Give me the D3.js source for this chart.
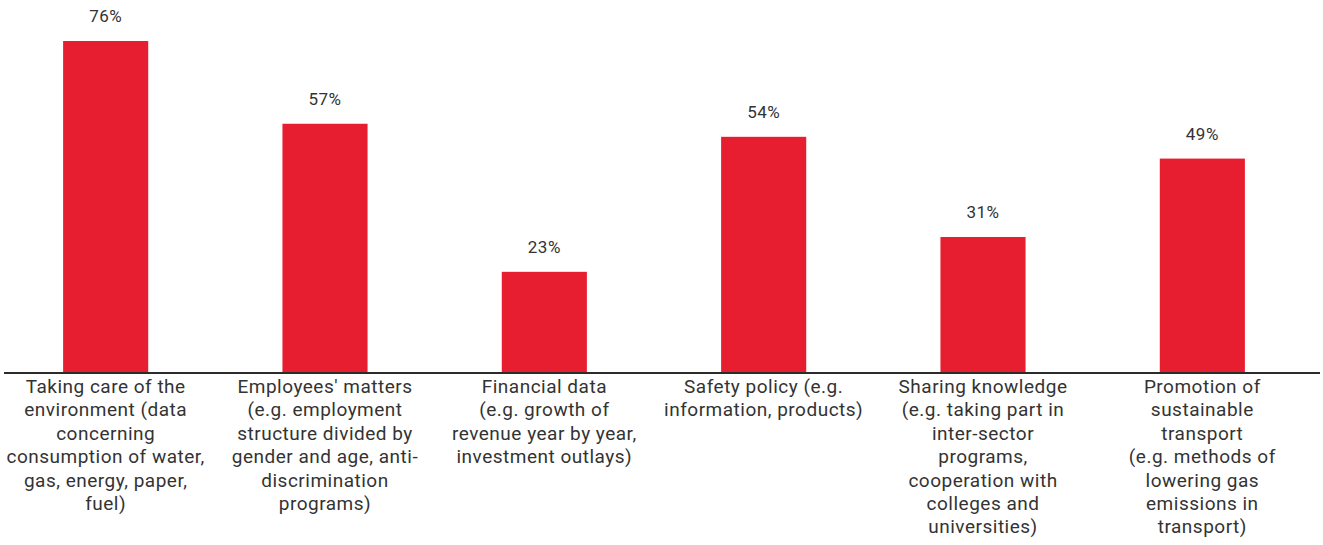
<!DOCTYPE html>
<html>
<head>
<meta charset="utf-8">
<script src="https://cdn.jsdelivr.net/npm/d3@7"></script>
<style>
  body { margin: 0; background: #fff; }
  text { font-family: Roboto, "Noto Sans", sans-serif; fill: #333; }
</style>
</head>
<body>
<script>
var svgWidth = 1323;
var svgHeight = 545;

var categories = [
    ["Taking care of the", "environment (data", "concerning", "consumption of water,", "gas, energy, paper,", "fuel)"],
    ["Employees' matters", "(e.g. employment", "structure divided by", "gender and age, anti-", "discrimination", "programs)"],
    ["Financial data", "(e.g. growth of", "revenue year by year,", "investment outlays)"],
    ["Safety policy (e.g.", "information, products)"],
    ["Sharing knowledge", "(e.g. taking part in", "inter-sector", "programs,", "cooperation with", "colleges and", "universities)"],
    ["Promotion of", "sustainable", "transport", "(e.g. methods of", "lowering gas", "emissions in", "transport)"]
];
var values = [76, 57, 23, 54, 31, 49];

var baseY = 372;

var svg = d3.select("body")
    .append("svg")
    .attr("width", svgWidth)
    .attr("height", svgHeight);

var xScale = d3.scaleBand()
    .domain(d3.range(values.length))
    .range([-4, 1312])
    .paddingInner(0.612)
    .paddingOuter(0.306);

var yScale = d3.scaleLinear()
    .domain([0, 76])
    .range([baseY, 41]);

var bars = svg.selectAll("g.bar")
    .data(values)
    .enter()
    .append("g")
    .classed("bar", true);

bars.append("rect")
    .attr("x", (d, i) => xScale(i))
    .attr("y", d => yScale(d))
    .attr("width", xScale.bandwidth())
    .attr("height", d => baseY - yScale(d))
    .attr("fill", "#e71d30");

bars.append("text")
    .attr("x", (d, i) => xScale(i) + xScale.bandwidth() / 2)
    .attr("y", d => yScale(d) - 19)
    .attr("text-anchor", "middle")
    .style("font-size", "17px")
    .style("letter-spacing", "0.5px")
    .text(d => d + "%");

// baseline
svg.append("line")
    .attr("x1", 4)
    .attr("x2", 1320)
    .attr("y1", baseY + 1)
    .attr("y2", baseY + 1)
    .attr("stroke", "#2b2b2b")
    .attr("stroke-width", 2);

// category labels
var labels = svg.selectAll("text.cat")
    .data(categories)
    .enter()
    .append("text")
    .classed("cat", true)
    .attr("text-anchor", "middle")
    .style("font-size", "19px")
    .style("letter-spacing", "0.5px");

labels.selectAll("tspan")
    .data((d, i) => d.map(line => ({line: line, i: i})))
    .enter()
    .append("tspan")
    .attr("x", d => xScale(d.i) + xScale.bandwidth() / 2)
    .attr("y", (d, j) => 393 + j * 23.4)
    .text(d => d.line);
</script>
</body>
</html>
